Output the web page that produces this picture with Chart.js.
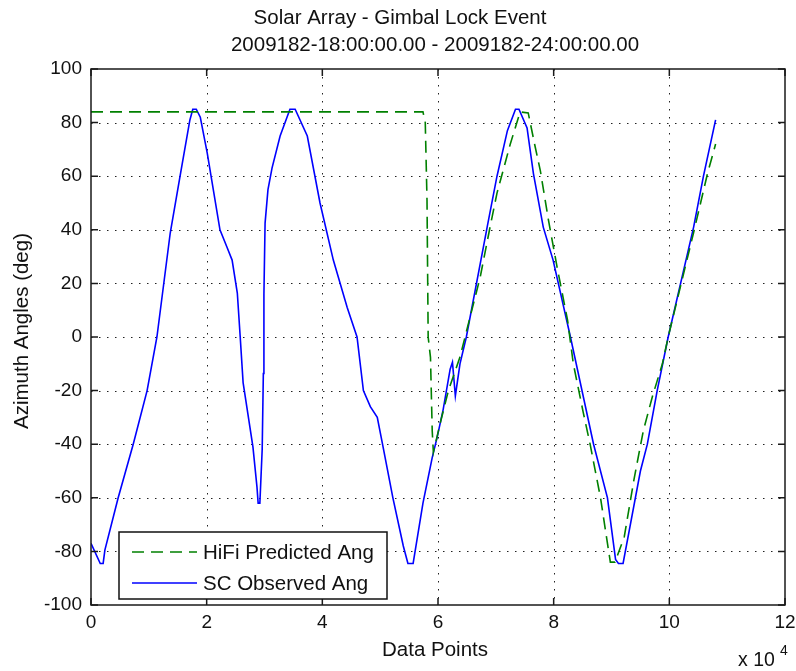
<!DOCTYPE html>
<html>
<head>
<meta charset="utf-8">
<script src="https://cdn.jsdelivr.net/npm/chart.js@4"></script>
<style>
  html, body { margin: 0; padding: 0; background: #ffffff; }
  #wrap { width: 796px; height: 671px; }
</style>
</head>
<body>
<div id="wrap"><canvas id="c" width="796" height="671"></canvas></div>
<script>
// ---- data (x in units of 10^4 data points) ----
const observedX = [0, 0.16, 0.21, 0.24, 0.47, 0.73, 0.97, 1.14, 1.37, 1.54, 1.71, 1.76, 1.82, 1.89, 2.01, 2.23, 2.35, 2.44, 2.53, 2.58, 2.63, 2.80, 2.87, 2.89, 2.92, 2.96, 2.98, 2.99, 3.01, 3.06, 3.13, 3.27, 3.44, 3.53, 3.74, 3.96, 4.19, 4.43, 4.60, 4.71, 4.83, 4.95, 5.05, 5.22, 5.40, 5.48, 5.57, 5.74, 5.90, 5.99, 6.09, 6.21, 6.25, 6.30, 6.38, 6.49, 6.85, 7.02, 7.20, 7.34, 7.40, 7.54, 7.65, 7.82, 7.99, 8.29, 8.69, 8.93, 9.07, 9.12, 9.20, 9.50, 9.62, 9.79, 9.98, 10.42, 10.59, 10.80];
const observedY = [-77, -84.5, -84.5, -79.5, -60, -40, -20, 0, 38.8, 60, 81, 85, 85, 82, 68.6, 40, 33.6, 28.7, 16.4, 0, -17, -41, -56, -62, -62, -42, -13.6, 16, 42.5, 55, 63, 75, 85, 85, 75, 50, 28.7, 11, 0, -20, -26, -30, -41, -60, -78, -84.5, -84.5, -62, -45, -37, -27, -12, -9.4, -22, -10, 0, 41, 60, 77, 85, 85, 78, 61, 41, 28.7, 0, -40, -60, -83, -84.5, -84.5, -50, -40, -20, 0, 41, 60, 81];

const predictedX = [0, 5.74, 5.78, 5.81, 5.83, 5.87, 5.90, 5.92, 6.04, 6.18, 6.38, 6.73, 6.90, 7.02, 7.25, 7.42, 7.56, 7.68, 7.77, 7.91, 8.06, 8.24, 8.34, 8.51, 8.63, 8.81, 8.93, 8.98, 9.06, 9.22, 9.39, 9.55, 9.71, 9.88, 9.98, 10.42, 10.66, 10.80];
const predictedY = [84, 84, 80, 51, 0, -7.6, -35, -43, -32, -20, -7.5, 22.4, 41, 53.7, 72, 84, 83.6, 71, 62, 43.6, 26, 6.3, -10, -28, -40, -60, -77, -84, -84, -74.6, -53, -35, -22, -10, 0, 39, 61, 72];

const seriesNames = ['HiFi Predicted Ang', 'SC Observed Ang'];
const xTickValues = [0, 2, 4, 6, 8, 10, 12];
const yTickValues = [-100, -80, -60, -40, -20, 0, 20, 40, 60, 80, 100];
const titleLines = ['Solar Array - Gimbal Lock Event', '2009182-18:00:00.00 - 2009182-24:00:00.00'];
const xAxisTitle = 'Data Points';
const yAxisTitle = 'Azimuth Angles (deg)';
const xMultiplier = ['x 10', '4'];

const FONT = '"Liberation Sans", Arial, sans-serif';
const toPts = (xs, ys) => xs.map((x, i) => ({ x: x, y: ys[i] }));

const decorPlugin = {
  id: 'decor',
  beforeDatasetsDraw(chart) {
    const { ctx, chartArea: a, scales: { x, y } } = chart;
    ctx.save();
    ctx.strokeStyle = '#222';
    ctx.lineWidth = 1;
    ctx.setLineDash([1.5, 6.5]);
    xTickValues.forEach(v => {
      if (v === 0 || v === 12) return;
      const px = Math.round(x.getPixelForValue(v)) + 0.5;
      ctx.beginPath(); ctx.moveTo(px, a.top); ctx.lineTo(px, a.bottom); ctx.stroke();
    });
    yTickValues.forEach(v => {
      if (v === -100 || v === 100) return;
      const py = Math.round(y.getPixelForValue(v)) + 0.5;
      ctx.beginPath(); ctx.moveTo(a.left, py); ctx.lineTo(a.right, py); ctx.stroke();
    });
    ctx.restore();
  },
  afterDatasetsDraw(chart) {
    const { ctx, chartArea: a, scales: { x, y } } = chart;
    ctx.save();
    ctx.strokeStyle = '#1a1a1a';
    ctx.lineWidth = 1.5;
    ctx.setLineDash([]);
    ctx.strokeRect(a.left, a.top, a.right - a.left, a.bottom - a.top);
    const tl = 7;
    xTickValues.forEach(v => {
      const px = x.getPixelForValue(v);
      ctx.beginPath();
      ctx.moveTo(px, a.bottom); ctx.lineTo(px, a.bottom - tl);
      ctx.moveTo(px, a.top); ctx.lineTo(px, a.top + tl);
      ctx.stroke();
    });
    yTickValues.forEach(v => {
      const py = y.getPixelForValue(v);
      ctx.beginPath();
      ctx.moveTo(a.left, py); ctx.lineTo(a.left + tl, py);
      ctx.moveTo(a.right, py); ctx.lineTo(a.right - tl, py);
      ctx.stroke();
    });

    // legend
    const lx = 119, ly = 532, lw = 268, lh = 67;
    ctx.fillStyle = '#ffffff';
    ctx.fillRect(lx, ly, lw, lh);
    ctx.strokeStyle = '#111';
    ctx.lineWidth = 1.5;
    ctx.strokeRect(lx, ly, lw, lh);
    const rows = [ly + 20, ly + 51];
    chart.data.datasets.forEach((ds, i) => {
      ctx.strokeStyle = ds.borderColor;
      ctx.lineWidth = 1.6;
      ctx.setLineDash(ds.borderDash || []);
      ctx.beginPath(); ctx.moveTo(lx + 13, rows[i]); ctx.lineTo(lx + 78, rows[i]); ctx.stroke();
      ctx.setLineDash([]);
      ctx.fillStyle = '#111';
      ctx.font = '20.5px ' + FONT;
      ctx.textAlign = 'left';
      ctx.textBaseline = 'middle';
      ctx.fillText(ds.label, lx + 84, rows[i] + 1);
    });

    // titles
    ctx.fillStyle = '#111';
    ctx.font = '20.5px ' + FONT;
    ctx.textAlign = 'center';
    ctx.textBaseline = 'middle';
    ctx.fillText(titleLines[0], 400, 18);
    ctx.fillText(titleLines[1], 435, 45);
    ctx.fillText(xAxisTitle, 435, 650);
    ctx.save();
    ctx.translate(22, 331);
    ctx.rotate(-Math.PI / 2);
    ctx.fillText(yAxisTitle, 0, 0);
    ctx.restore();
    ctx.textAlign = 'left';
    ctx.font = '19.5px ' + FONT;
    ctx.fillText(xMultiplier[0], 738, 661);
    ctx.font = '14px ' + FONT;
    ctx.fillText(xMultiplier[1], 780, 651);
    ctx.restore();
  }
};

new Chart(document.getElementById('c'), {
  type: 'line',
  data: {
    datasets: [
      {
        label: seriesNames[0],
        data: toPts(predictedX, predictedY),
        borderColor: '#008000',
        borderWidth: 1.6,
        borderDash: [12, 7],
        pointRadius: 0,
        tension: 0,
        fill: false
      },
      {
        label: seriesNames[1],
        data: toPts(observedX, observedY),
        borderColor: '#0000ff',
        borderWidth: 1.6,
        pointRadius: 0,
        tension: 0,
        fill: false
      }
    ]
  },
  options: {
    responsive: false,
    animation: false,
    devicePixelRatio: 1,
    layout: { padding: { top: 69, right: 11, left: 0, bottom: 0 } },
    plugins: { legend: { display: false }, title: { display: false }, tooltip: { enabled: false } },
    scales: {
      x: {
        type: 'linear',
        min: 0, max: 12,
        afterFit: s => { s.height = 66; s.paddingLeft = 0; s.paddingRight = 0; },
        afterBuildTicks: s => { s.ticks = xTickValues.map(v => ({ value: v })); },
        grid: { display: false, drawTicks: false },
        border: { display: false },
        ticks: { color: '#111', font: { family: FONT, size: 19 }, padding: 6, maxRotation: 0 }
      },
      y: {
        type: 'linear',
        min: -100, max: 100,
        afterFit: s => { s.width = 91; s.paddingTop = 0; s.paddingBottom = 0; },
        afterBuildTicks: s => { s.ticks = yTickValues.map(v => ({ value: v })); },
        grid: { display: false, drawTicks: false },
        border: { display: false },
        ticks: { color: '#111', font: { family: FONT, size: 19 }, padding: 9 }
      }
    }
  },
  plugins: [decorPlugin]
});
</script>
</body>
</html>
